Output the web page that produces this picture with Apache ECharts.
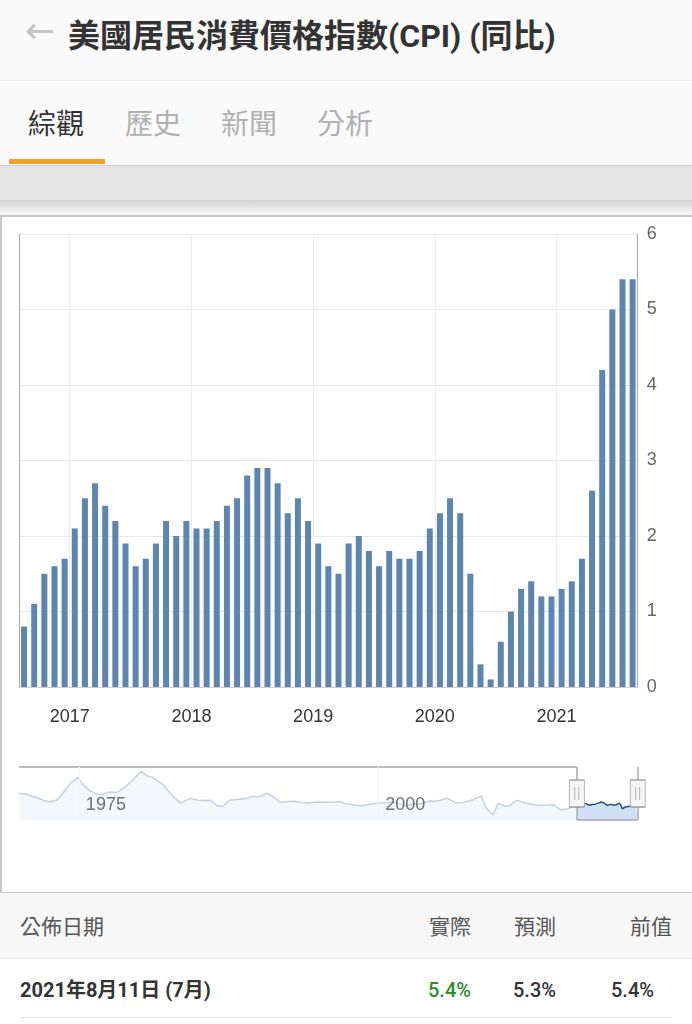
<!DOCTYPE html>
<html><head><meta charset="utf-8">
<script src="https://cdn.jsdelivr.net/npm/echarts@6/dist/echarts.min.js"></script>
<style>
html,body{margin:0;padding:0;width:692px;height:1024px;overflow:hidden;background:#fff;font-family:Roboto,"Noto Sans CJK TC",sans-serif;}
.abs{position:absolute;white-space:nowrap;}
#chart{position:absolute;left:0;top:0;width:692px;height:1024px;z-index:5;}
</style></head><body>
<div class="abs" style="left:0;top:0;width:692px;height:165px;background:#fafafa"></div>
<div class="abs" style="left:0;top:80px;width:692px;height:1px;background:#ececec"></div>
<div class="abs" style="left:25px;top:11px;font-size:36px;color:#c4c4c4;line-height:40px;font-family:'DejaVu Sans'">&#8592;</div>
<div class="abs" style="left:68px;top:14px;font-size:32px;font-weight:bold;color:#333;line-height:44px;font-family:Roboto,'Noto Sans CJK TC'">美國居民消費價格指數(CPI) (同比)</div>
<div class="abs" style="left:28px;top:102px;font-size:28px;color:#333;line-height:40px;font-family:'Noto Sans CJK TC'">綜觀</div>
<div class="abs" style="left:125px;top:102px;font-size:28px;color:#b0b0b0;line-height:40px;font-family:'Noto Sans CJK TC'">歷史</div>
<div class="abs" style="left:221px;top:102px;font-size:28px;color:#b0b0b0;line-height:40px;font-family:'Noto Sans CJK TC'">新聞</div>
<div class="abs" style="left:317px;top:102px;font-size:28px;color:#b0b0b0;line-height:40px;font-family:'Noto Sans CJK TC'">分析</div>
<div class="abs" style="left:9px;top:159px;width:96px;height:5px;background:#f3a32a"></div>
<div class="abs" style="left:0;top:165px;width:692px;height:1px;background:#cfcfcf"></div>
<div class="abs" style="left:0;top:166px;width:692px;height:34px;background:#e4e4e4"></div>
<div class="abs" style="left:0;top:200px;width:692px;height:15px;background:linear-gradient(#d3d3d3,#f7f7f7)"></div>
<div class="abs" style="left:0;top:215px;width:700px;height:675px;border:2px solid #c6c6c6;background:#fff"></div>
<div class="abs" style="left:0;top:893px;width:692px;height:65px;background:#f7f7f7"></div>
<div class="abs" style="left:20px;top:908px;font-size:21px;color:#555;line-height:34px;font-family:'Noto Sans CJK TC'">公佈日期</div>
<div class="abs" style="right:221px;top:908px;font-size:21px;color:#555;line-height:34px;font-family:'Noto Sans CJK TC'">實際</div>
<div class="abs" style="right:136px;top:908px;font-size:21px;color:#555;line-height:34px;font-family:'Noto Sans CJK TC'">預測</div>
<div class="abs" style="right:20px;top:908px;font-size:21px;color:#555;line-height:34px;font-family:'Noto Sans CJK TC'">前值</div>
<div class="abs" style="left:0;top:958px;width:692px;height:1px;background:#e6e6e6"></div>
<div class="abs" style="left:20px;top:973px;font-size:20px;font-weight:bold;color:#333;line-height:34px;">2021年8月11日 (7月)</div>
<div class="abs" style="right:221px;top:973px;font-size:20px;font-weight:500;color:#2a8f2a;line-height:34px;">5.4%</div>
<div class="abs" style="right:136px;top:973px;font-size:20px;font-weight:500;color:#333;line-height:34px;">5.3%</div>
<div class="abs" style="right:38px;top:973px;font-size:20px;font-weight:500;color:#333;line-height:34px;">5.4%</div>
<div class="abs" style="left:20px;top:1017px;width:652px;height:1px;background:#e6e6e6"></div>
<div id="chart"></div>
<script>
// ---- data ----
var periods = ['2016-07','2016-08','2016-09','2016-10','2016-11','2016-12',
  '2017-01','2017-02','2017-03','2017-04','2017-05','2017-06','2017-07','2017-08','2017-09','2017-10','2017-11','2017-12',
  '2018-01','2018-02','2018-03','2018-04','2018-05','2018-06','2018-07','2018-08','2018-09','2018-10','2018-11','2018-12',
  '2019-01','2019-02','2019-03','2019-04','2019-05','2019-06','2019-07','2019-08','2019-09','2019-10','2019-11','2019-12',
  '2020-01','2020-02','2020-03','2020-04','2020-05','2020-06','2020-07','2020-08','2020-09','2020-10','2020-11','2020-12',
  '2021-01','2021-02','2021-03','2021-04','2021-05','2021-06','2021-07'];
var cpiYoY = [0.8,1.1,1.5,1.6,1.7,2.1,
  2.5,2.7,2.4,2.2,1.9,1.6,1.7,1.9,2.2,2.0,2.2,2.1,
  2.1,2.2,2.4,2.5,2.8,2.9,2.9,2.7,2.3,2.5,2.2,1.9,
  1.6,1.5,1.9,2.0,1.8,1.6,1.8,1.7,1.7,1.8,2.1,2.3,
  2.5,2.3,1.5,0.3,0.1,0.6,1.0,1.3,1.4,1.2,1.2,1.3,
  1.4,1.7,2.6,4.2,5.0,5.4,5.4];
var axisStart = '2016-08', axisEnd = '2021-09';
var yearTicks = [2017, 2018, 2019, 2020, 2021];
var overviewTicks = [1975, 2000];
var overviewStart = 1970;
var historyYears = [1970.0,1970.5,1971.0,1971.5,1972.0,1972.6,1973.2,1973.7,1974.3,1974.9,1975.4,1975.9,1976.5,1976.9,1977.5,1978.2,1978.8,1979.4,1980.2,1980.7,1981.1,1981.6,1982.0,1982.5,1983.0,1983.5,1984.3,1985.0,1985.6,1986.0,1986.5,1987.0,1987.6,1988.3,1988.9,1989.5,1990.0,1990.7,1991.2,1991.8,1992.5,1993.0,1993.5,1994.2,1994.8,1995.5,1996.2,1996.8,1997.3,1997.9,1998.7,1999.3,1999.9,2000.7,2001.2,2001.8,2002.3,2002.9,2003.5,2004.3,2004.9,2005.7,2006.1,2006.5,2007.0,2007.9,2008.6,2009.0,2009.6,2010.0,2010.6,2011.0,2011.6,2012.2,2012.9,2013.4,2014.1,2014.6,2015.2,2015.7,2016.2,2016.5];
var historyValues = [6.2,6.0,5.3,4.6,3.6,2.9,3.8,6.5,10.2,12.3,9.4,7.3,6.0,5.8,6.7,6.7,8.5,10.9,14.8,12.9,12.6,11.0,9.8,7.0,4.5,2.5,4.3,3.6,3.5,3.6,1.6,1.2,3.7,3.9,4.3,5.1,4.8,6.3,5.0,2.9,3.1,3.2,2.7,2.5,2.9,2.8,2.8,3.1,2.3,1.8,1.5,2.1,2.5,2.6,3.0,2.2,1.4,2.3,2.2,3.3,3.2,4.4,3.6,2.5,2.6,3.8,5.3,0.6,-2.1,2.4,1.3,1.6,3.6,2.6,2.0,1.6,1.8,2.0,-0.1,0.1,1.0,0.9];

// ---- helpers ----
function monthIndex(p){ var a = p.split('-'); return (+a[0]-2016)*12 + (+a[1]-1); }
// bars are placed at the middle of the release month (month after the period)
var barData = periods.map(function(p,i){ return [monthIndex(p) + 1.5, cpiYoY[i]]; });
var xMin = monthIndex(axisStart), xMax = monthIndex(axisEnd);
var yearTickX = yearTicks.map(function(y){ return (y-2016)*12; });
var toYear = function(m){ return 2016 + m/12; };
var winStart = toYear(xMin), winEnd = toYear(xMax);
var histData = historyYears.map(function(y,i){ return [y, historyValues[i]]; });
var winData = barData.map(function(d){ return [toYear(d[0]), d[1]]; });
var ovYMin = -4, ovYMax = 16.4, ovMid = (ovYMin+ovYMax)/2;

var chart = echarts.init(document.getElementById('chart'), null, {renderer:'canvas'});
chart.setOption({
  animation:false,
  backgroundColor:'transparent',
  grid:[
    {left:19, top:234, width:618.7, height:453},
    {left:19, top:767, width:618.7, height:53}
  ],
  xAxis:[
    {type:'value', gridIndex:0, min:xMin, max:xMax,
     axisLine:{show:true, onZero:false, lineStyle:{color:'#cccccc', width:1}},
     axisTick:{show:false, customValues:yearTickX},
     axisLabel:{customValues:yearTickX, color:'#333', fontSize:18, margin:21, fontFamily:'Liberation Sans',
       formatter:function(v){ return String(2016 + Math.round(v/12)); }},
     splitLine:{show:true, lineStyle:{color:'#ececec', width:1}}},
    {type:'value', gridIndex:1, min:overviewStart, max:winEnd, z:10,
     axisLine:{show:false},
     axisTick:{show:false, customValues:overviewTicks},
     axisLabel:{inside:true, customValues:overviewTicks, color:'#6f6f6f', fontSize:18, margin:6, align:'left', padding:[0,0,0,7], fontFamily:'Liberation Sans',
       formatter:function(v){ return String(v); }},
     splitLine:{show:true, lineStyle:{color:'#f4f4f4', width:1}}}
  ],
  yAxis:[
    {type:'value', gridIndex:0, position:'right', min:0, max:6, interval:1,
     axisLine:{show:true, onZero:false, lineStyle:{color:'#aaaaaa', width:1}},
     axisTick:{show:false},
     axisLabel:{color:'#666', fontSize:18, margin:9, fontFamily:'Liberation Sans'},
     splitLine:{show:true, lineStyle:{color:'#e9e9e9', width:1}}},
    {type:'value', gridIndex:0, position:'left', min:0, max:6, interval:1,
     axisLine:{show:true, onZero:false, lineStyle:{color:'#aaaaaa', width:1}},
     axisTick:{show:false}, axisLabel:{show:false}, splitLine:{show:false}},
    {type:'value', gridIndex:1, min:ovYMin, max:ovYMax, show:false}
  ],
  series:[
    {type:'bar', xAxisIndex:0, yAxisIndex:0, data:barData, barWidth:6, silent:true,
     itemStyle:{color:'#5d85b0'}},
    {type:'line', xAxisIndex:1, yAxisIndex:2, data:histData, symbol:'none', silent:true, z:1,
     lineStyle:{color:'#c6d1dd', width:1.5}, areaStyle:{color:'#f0f5fb', origin:'start'}},
    {type:'line', xAxisIndex:1, yAxisIndex:2, data:winData, symbol:'none', silent:true, clip:false, z:2,
     lineStyle:{color:'#1f528a', width:1.5}, areaStyle:{color:'#cde0f5', origin:'start', opacity:1},
     markLine:{silent:true, symbol:['none','none'], label:{show:false},
       lineStyle:{color:'#a9a9a9', width:1.5, type:'solid'},
       data:[
         [{coord:[overviewStart, ovYMax]}, {coord:[winStart, ovYMax]}],
         [{coord:[winStart, ovYMax]}, {coord:[winStart, ovYMin]}],
         [{coord:[winStart, ovYMin]}, {coord:[winEnd, ovYMin]}],
         [{coord:[winEnd, ovYMax]}, {coord:[winEnd, ovYMin]}]
       ]},
     markPoint:{silent:true, z:20, symbol:'path://M0,0L15,0L15,27L0,27Z M5.5,7L5.5,20 M9.5,7L9.5,20',
       symbolSize:[15,27], symbolKeepAspect:false, label:{show:false},
       itemStyle:{color:'#f6f6f6', borderColor:'#a0a0a0', borderWidth:1},
       data:[{coord:[winStart, ovMid]}, {coord:[winEnd, ovMid]}]}}
  ]
});
</script>
</body></html>
